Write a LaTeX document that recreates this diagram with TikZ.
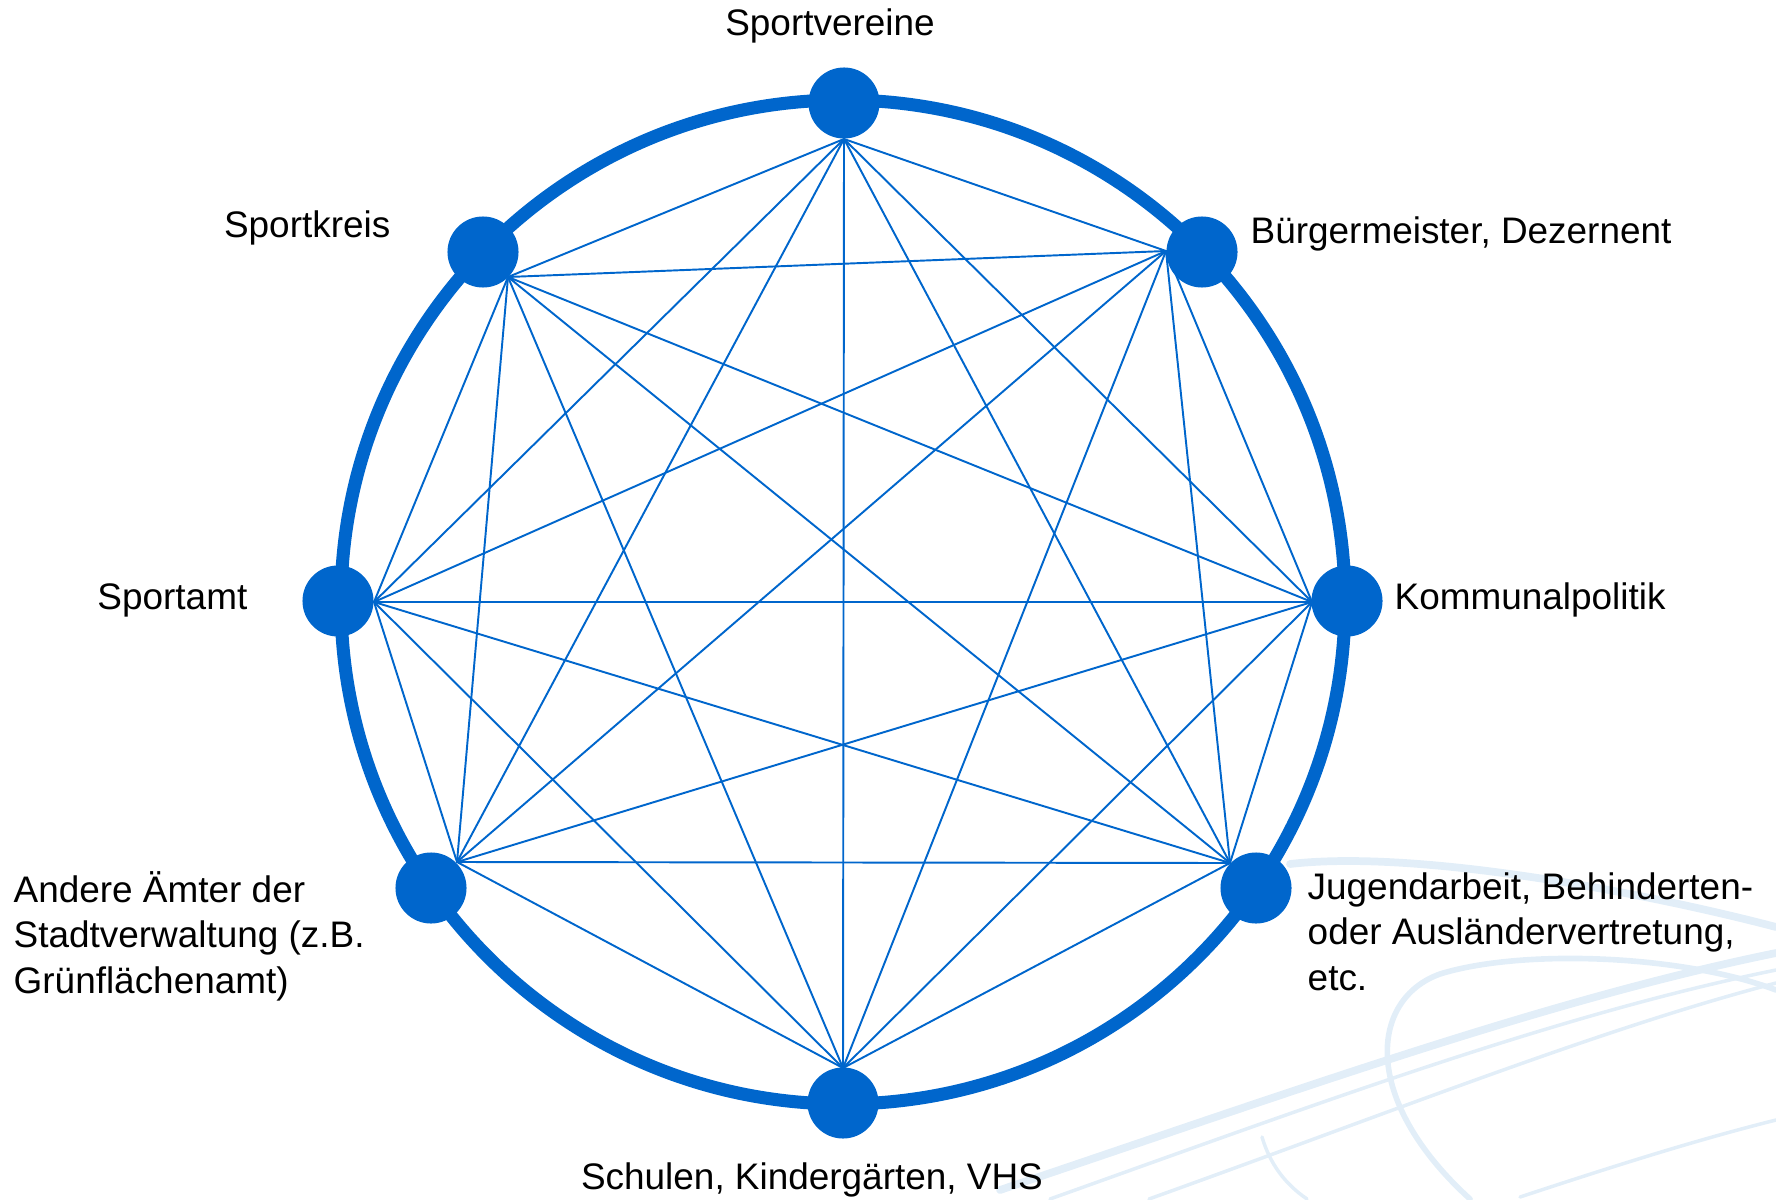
\documentclass[tikz,border=0pt]{standalone}
\usepackage{fontspec}
\setmainfont{Liberation Sans}
\usepackage{xcolor}
\definecolor{netblue}{RGB}{0,102,204}
\definecolor{swoosh}{RGB}{226,238,248}
\tikzset{
    member/.style={circle,fill=netblue,inner sep=0pt,minimum size=0.71cm},
    tie/.style={line width=0.55pt,color=netblue},
    lbl/.style={inner sep=0pt,font=\fontsize{10.5}{12.9}\selectfont},
}
\begin{document}
\begin{tikzpicture}[line cap=round,line join=round,x=0.01cm,y=0.01cm]
                \useasboundingbox (0,0) rectangle (1776,1199);
                % faint background swoosh
                \draw [swoosh,line width=2.2pt] (1290,335) .. controls (1420,350) and (1650,305) .. (1776,272);
                \draw [swoosh,line width=1.6pt] (1776,209) .. controls (1680,245) and (1520,250) .. (1440,225) .. controls (1370,200) and (1360,100) .. (1470,0);
                \draw [swoosh,line width=2.2pt] (1000,9) .. controls (1300,110) and (1550,200) .. (1776,246);
                \draw [swoosh,line width=1pt] (1050,0) .. controls (1330,100) and (1560,185) .. (1776,229);
                \draw [swoosh,line width=1pt] (1149,0) .. controls (1400,90) and (1600,170) .. (1776,216);
                \draw [swoosh,line width=1pt] (1520,2) .. controls (1620,35) and (1700,60) .. (1776,79);
                \draw [swoosh,line width=1pt] (1262,62) .. controls (1270,35) and (1285,15) .. (1307,0);
                % ring
                \draw [netblue,line width=3.7pt] (843,597) circle (502);
                % inner ends of the ties
                \coordinate (sv) at (844,1060);
                \coordinate (bm) at (1166,948);
                \coordinate (kp) at (1312,597);
                \coordinate (ja) at (1230,336);
                \coordinate (sc) at (843,131);
                \coordinate (aa) at (457,337);
                \coordinate (sa) at (374,597);
                \coordinate (sk) at (508,922);
                % ties
                \draw [tie] (sv)-- (bm);
                \draw [tie] (sv)-- (kp);
                \draw [tie] (sv)-- (ja);
                \draw [tie] (sv)-- (sc);
                \draw [tie] (sv)-- (aa);
                \draw [tie] (sv)-- (sa);
                \draw [tie] (sv)-- (sk);
                \draw [tie] (bm)-- (kp);
                \draw [tie] (bm)-- (ja);
                \draw [tie] (bm)-- (sc);
                \draw [tie] (bm)-- (aa);
                \draw [tie] (bm)-- (sa);
                \draw [tie] (bm)-- (sk);
                \draw [tie] (kp)-- (ja);
                \draw [tie] (kp)-- (sc);
                \draw [tie] (kp)-- (aa);
                \draw [tie] (kp)-- (sa);
                \draw [tie] (kp)-- (sk);
                \draw [tie] (ja)-- (sc);
                \draw [tie] (ja)-- (aa);
                \draw [tie] (ja)-- (sa);
                \draw [tie] (ja)-- (sk);
                \draw [tie] (sc)-- (aa);
                \draw [tie] (sc)-- (sa);
                \draw [tie] (sc)-- (sk);
                \draw [tie] (aa)-- (sa);
                \draw [tie] (aa)-- (sk);
                \draw [tie] (sa)-- (sk);
                % members
                \node [member] (vereine) at (844,1096) {};
                \node [member] (buergermeister) at (1202,947) {};
                \node [member] (politik) at (1347,598) {};
                \node [member] (jugend) at (1256,311) {};
                \node [member] (schulen) at (843,96) {};
                \node [member] (aemter) at (431,311) {};
                \node [member] (sportamt) at (338,598) {};
                \node [member] (sportkreis) at (483,947) {};
                % labels
                \node [lbl,anchor=base] (lvereine) at (830,1163) {Sportvereine};
                \node [lbl,anchor=base west] (lbuergermeister) at (1250,955) {Bürgermeister, Dezernent};
                \node [lbl,anchor=base west] (lpolitik) at (1394,590) {Kommunalpolitik};
                \node [lbl,anchor=base west,align=left] (ljugend) at (1307,209) {Jugendarbeit, Behinderten-\\oder Ausländervertretung,\\etc.};
                \node [lbl,anchor=base] (lschulen) at (812,10) {Schulen, Kindergärten, VHS};
                \node [lbl,anchor=base west,align=left] (laemter) at (13,206) {Andere Ämter der\\Stadtverwaltung (z.B.\\Grünflächenamt)};
                \node [lbl,anchor=base east] (lsportamt) at (248,590) {Sportamt};
                \node [lbl,anchor=base east] (lsportkreis) at (391,961) {Sportkreis};
\end{tikzpicture}
\end{document}
